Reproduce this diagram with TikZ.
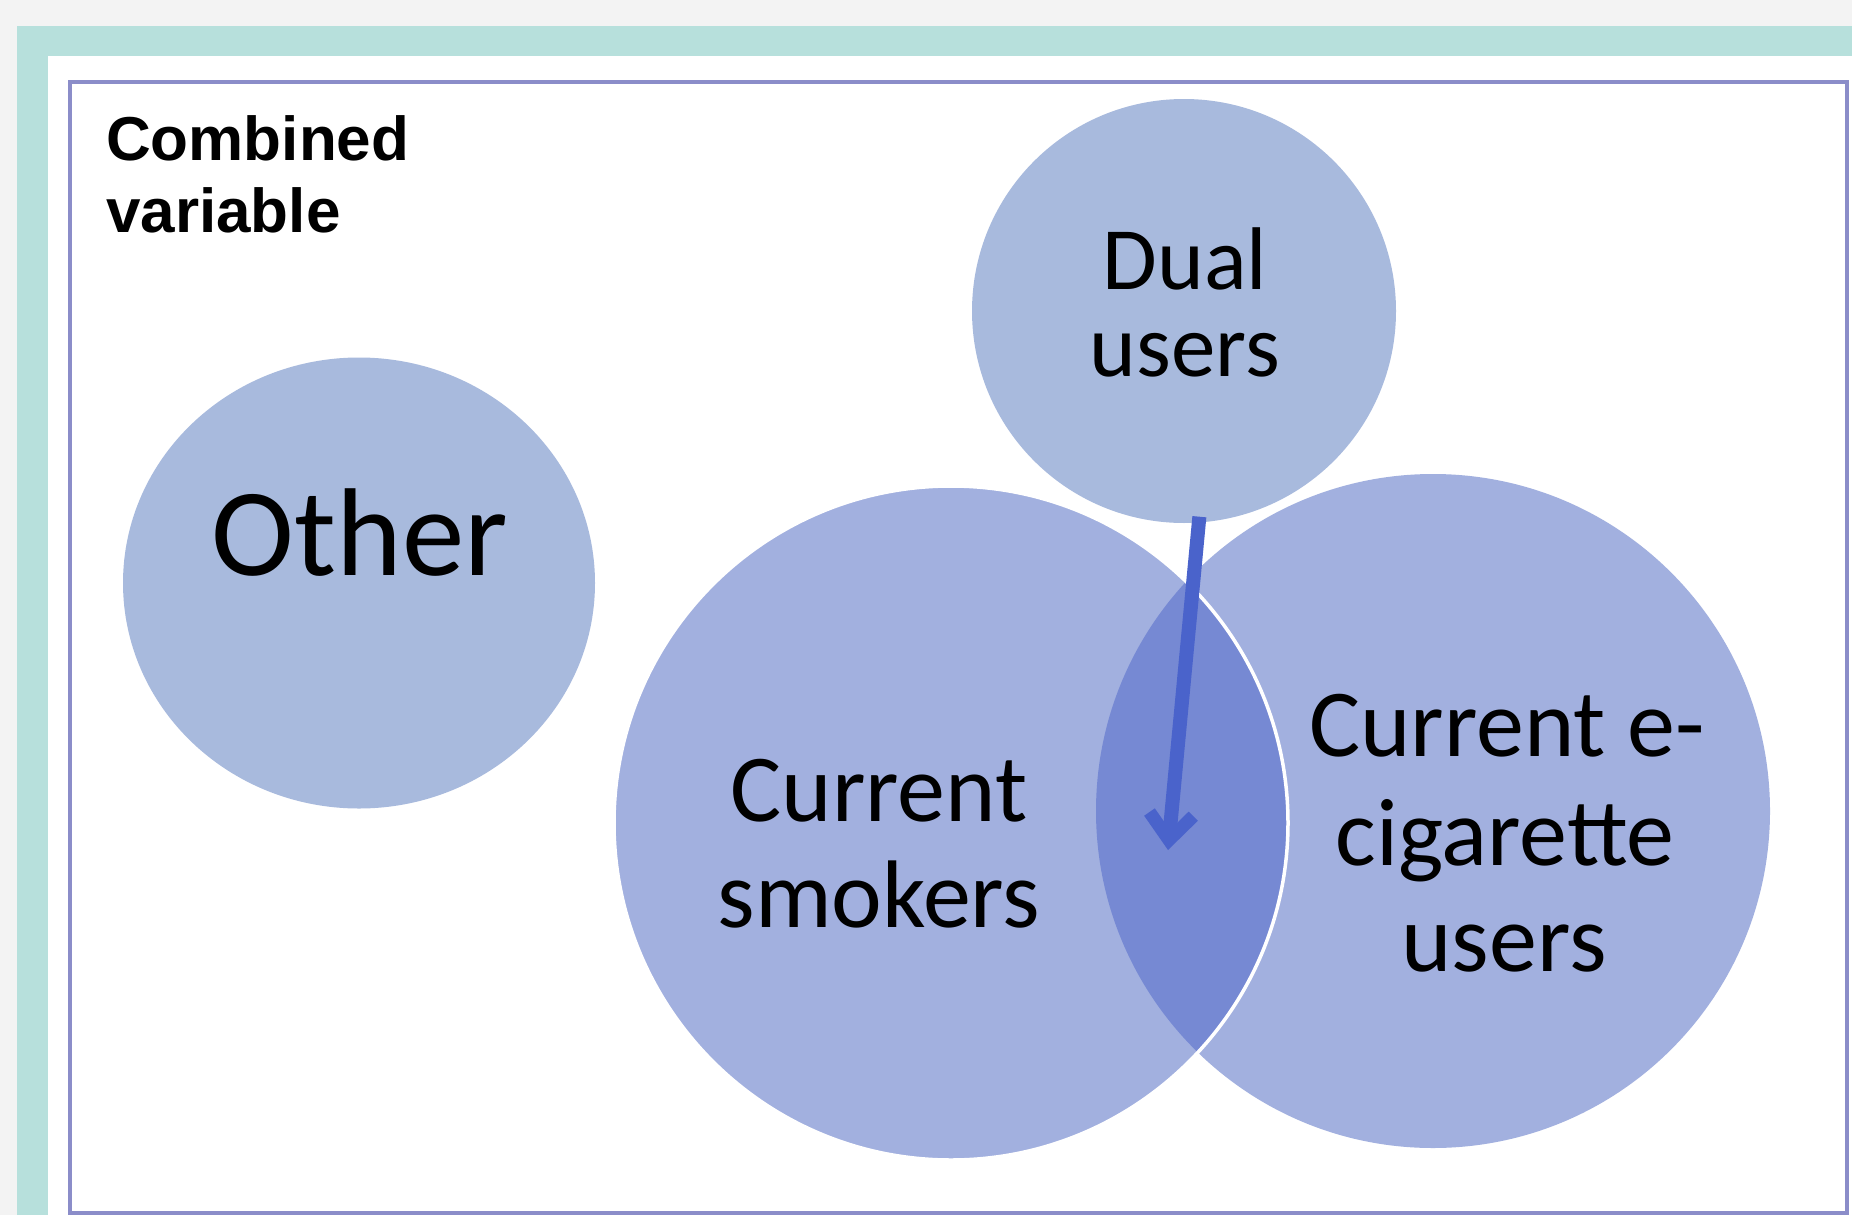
\documentclass[tikz,border=0pt]{standalone}
\usepackage{fontspec}
\setmainfont{Carlito}
\newfontfamily\headfont{Liberation Sans}
\usetikzlibrary{arrows.meta,shapes.geometric}

\definecolor{pagegray}{HTML}{F3F3F3}
\definecolor{bandteal}{HTML}{B7E0DC}
\definecolor{frameblue}{HTML}{8B8DC9}
\definecolor{paleblue}{HTML}{A8BADD}
\definecolor{vennblue}{HTML}{A2B0DF}
\definecolor{lensblue}{HTML}{7689D3}
\definecolor{arrowblue}{HTML}{4A63CB}

\begin{document}
\begin{tikzpicture}[x=1pt,y=-1pt,
  disc/.style={fill=#1, draw=none, inner sep=0pt},
  lbl/.style={anchor=base, inner sep=0pt, text=black},
  biglbl/.style={lbl, font=\fontsize{125}{150}\selectfont},
  midlbl/.style={lbl, font=\fontsize{96}{106}\selectfont},
  duallbl/.style={lbl, font=\fontsize{89}{86}\selectfont},
  headlbl/.style={anchor=base west, inner sep=0pt, text=black,
    font=\headfont\bfseries\fontsize{62}{72}\selectfont},
  pointer/.style={draw=arrowblue, line width=14pt,
    -{Straight Barb[length=26pt,width=44pt,line width=13pt,line join=miter,line cap=butt]}}]

\useasboundingbox (0,0) rectangle (1852,1215);

% page, teal band and framed panel
\fill[pagegray] (0,0) rectangle (1852,1215);
\fill[bandteal] (17,26) rectangle (1852,1215);
\fill[white] (48,56) rectangle (1852,1215);
\draw[frameblue, line width=3.5pt] (70,82) rectangle (1847,1213);

% heading
\node[headlbl] (head1) at (106,160) {Combined};
\node[headlbl] (head2) at (106,232) {variable};

% separate groups
\node[disc=paleblue, ellipse, minimum width=472pt, minimum height=451pt] (other) at (359,583) {};
\node[disc=paleblue, circle, minimum size=424pt] (dual) at (1184,311) {};

% overlapping groups
\node[disc=vennblue, circle, minimum size=674pt] (ecig) at (1433,811) {};
\node[disc=vennblue, circle, minimum size=674pt] (smokers) at (951,823) {};
\begin{scope}
  \clip (smokers.center) circle[radius=337pt];
  \fill[lensblue] (ecig.center) circle[radius=337pt];
\end{scope}
\draw[white, line width=3.5pt] (smokers.center) circle[radius=337pt];

% labels
\node[biglbl] (otherlbl) at (360,575) {Other};
\node[duallbl] (dual1) at (1185,289) {Dual};
\node[duallbl] (dual2) at (1185,376) {users};
\node[midlbl] (smk1) at (879,821) {Current};
\node[midlbl] (smk2) at (879,927) {smokers};
\node[midlbl] (ecg1) at (1507,756) {Current e-};
\node[midlbl] (ecg2) at (1505,865) {cigarette};
\node[midlbl] (ecg3) at (1504,971) {users};

% dual users point into the overlap
\coordinate (overlap) at (1168,850);
\draw[pointer, shorten <=-6pt] (dual.-86) -- (overlap);

\end{tikzpicture}
\end{document}
